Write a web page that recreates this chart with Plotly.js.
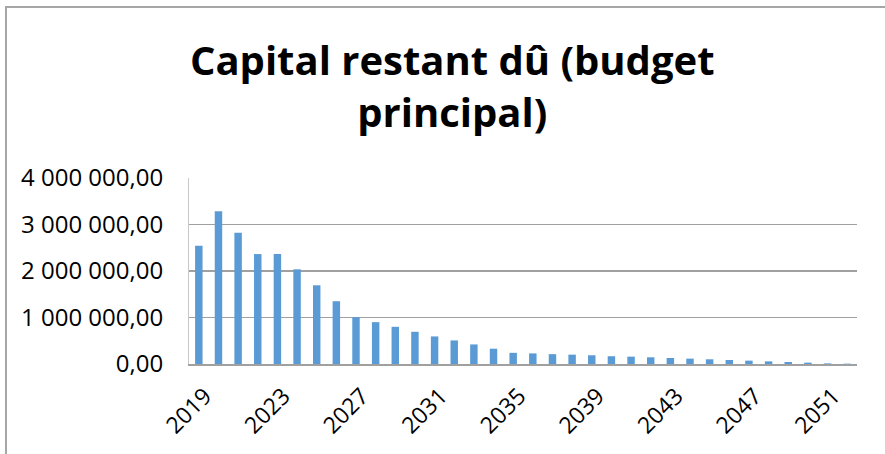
<!DOCTYPE html>
<html>
<head>
<meta charset="utf-8">
<script src="https://cdn.plot.ly/plotly-3.0.1.min.js"></script>
<style>
  html, body { margin: 0; padding: 0; background: #ffffff; }
  #chart { width: 885px; height: 454px; position: absolute; left: 0; top: 0; }
  /* chart-area frame, only the top and left edges are visible in the crop */
  #frame { position: absolute; left: 5px; top: 6px; width: 900px; height: 460px;
           border-left: 2px solid #a6a6a6; border-top: 2px solid #a6a6a6; pointer-events: none; }
</style>
</head>
<body>
<div id="chart"></div>
<div id="frame"></div>
<script>
// Remaining capital per year
const years = [2019, 2020, 2021, 2022, 2023, 2024, 2025, 2026, 2027, 2028,
               2029, 2030, 2031, 2032, 2033, 2034, 2035, 2036, 2037, 2038,
               2039, 2040, 2041, 2042, 2043, 2044, 2045, 2046, 2047, 2048,
               2049, 2050, 2051, 2052];
const capital = [2543000, 3286000, 2821000, 2364000, 2364000, 2036000, 1693000, 1350000, 1007000, 900000,
                 800000, 693000, 593000, 507000, 421000, 329000, 240000, 228000, 212000, 201000,
                 188000, 167000, 158000, 144000, 129000, 115000, 101000, 86000, 72000, 57000,
                 43000, 29000, 14000, 7000];
const yTicks = [0, 1000000, 2000000, 3000000, 4000000];

const trace = {
    x: years,
    y: capital,
    type: 'bar',
    marker: { color: '#5b9bd5' },
    hoverinfo: 'x+y'
};

const layout = {
    width: 885,
    height: 454,
    title: {
        text: 'Capital restant dû (budget<br>principal)',
        font: { family: 'Open Sans, sans-serif', size: 40, color: '#000000', weight: 'bold' },
        xref: 'container', x: 0.511, xanchor: 'center',
        yref: 'container', y: 0.835, yanchor: 'top'
    },
    font: { family: 'Open Sans, sans-serif', color: '#000000' },
    separators: ', ',
    showlegend: false,
    bargap: 0.62,
    margin: { l: 189, r: 28, t: 178, b: 90, pad: 0 },
    xaxis: {
        range: [2018.5, 2052.5],
        tick0: 2019,
        dtick: 4,
        tickangle: -45,
        tickfont: { size: 23 },
        ticklabelstandoff: 8,
        ticklabelshift: 6,
        showgrid: false,
        zeroline: false,
        showline: true,
        linecolor: '#a0a0a0',
        linewidth: 1.5,
        ticks: ''
    },
    yaxis: {
        range: [0, 4000000],
        tickvals: yTicks,
        tickformat: ',.2f',
        tickfont: { size: 24 },
        ticklabelstandoff: 20,
        showgrid: true,
        gridcolor: '#a0a0a0',
        gridwidth: 1.5,
        zeroline: false,
        showline: true,
        linecolor: '#c8c8c8',
        linewidth: 1
    },
    plot_bgcolor: '#ffffff',
    paper_bgcolor: '#ffffff'
};

Plotly.newPlot('chart', [trace], layout, { staticPlot: true });
</script>
</body>
</html>
